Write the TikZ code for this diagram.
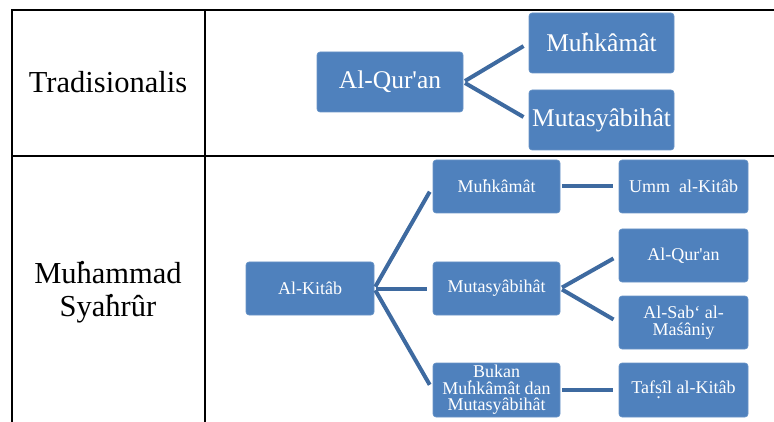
\documentclass[tikz,border=0pt]{standalone}
\usepackage{fontspec}
\setmainfont{Liberation Serif}[Ligatures=TeXOff]
\newcommand\hdt{\ooalign{h\cr\hidewidth\raisebox{.64em}{.}\kern.12em\hidewidth\cr}}
\newcommand\sdb{\ooalign{s\cr\hidewidth\raisebox{-.28em}{.}\hidewidth\cr}}
\definecolor{boxblue}{RGB}{79,129,189}
\definecolor{lineblue}{RGB}{62,106,160}
\tikzset{
  bx/.style={fill=boxblue, draw=boxblue!85!white, line width=0.6pt, rounded corners=3pt, text=white, align=center, inner sep=1pt},
  bigbx/.style={bx, minimum width=145pt, minimum height=60pt, font=\fontsize{25.5}{27}\selectfont},
  smbx/.style={bx, minimum width=127pt, minimum height=53pt, font=\fontsize{18}{16.5}\selectfont},
  conn/.style={draw=lineblue, line width=4pt, shorten <=2pt, shorten >=6pt},
  grid/.style={draw=black, line width=1.3pt},
  lbl/.style={align=center, font=\fontsize{30.5}{33}\selectfont}
}
\begin{document}
\begin{tikzpicture}[x=1pt,y=-1pt]
\useasboundingbox (0,0) rectangle (774,422);
% table
\coordinate (tl) at (12,10);
\coordinate (tr) at (774,10);
\coordinate (ml) at (12,156);
\coordinate (mr) at (774,156);
\coordinate (bl) at (12,422);
\coordinate (dt) at (205,10);
\coordinate (db) at (205,422);
\draw[grid] (tr) -- (tl) -- (bl);
\draw[grid] (ml) -- (mr);
\draw[grid] (dt) -- (db);
% labels
\node[lbl] (trad) at (108,82) {Tradisionalis};
\node[lbl] (syah) at (108,293) {Mu\hdt ammad\\Sya\hdt r\^ur};
% top row
\node[bigbx, minimum width=146pt] (aq) at (390,82) {Al-Qur'an};
\node[bigbx] (t1) at (601.5,43) {Mu\hdt k\^am\^at};
\node[bigbx] (t2) at (601.5,120) {Mutasy\^abih\^at};
\draw[conn] (aq.east) -- (t1.west);
\draw[conn] (aq.east) -- (t2.west);
% bottom row
\node[smbx, minimum width=128pt] (ak) at (310,288.5) {Al-Kit\^ab};
\node[smbx] (b1) at (496.5,186.5) {Mu\hdt k\^am\^at};
\node[smbx] (b2) at (496.5,288.5) {Mutasy\^abih\^at};
\node[smbx, minimum height=54pt] (b3) at (496.5,390) {Bukan\\Mu\hdt k\^am\^at dan\\Mutasy\^abih\^at};
\node[smbx, minimum width=129pt] (c1) at (683.5,186.5) {Umm\ \ al-Kit\^ab};
\node[smbx, minimum width=129pt] (c2) at (683.5,255.5) {Al-Qur'an};
\node[smbx, minimum width=129pt] (c3) at (683.5,322.5) {Al-Sab‘ al-\\Ma\'s\^aniy};
\node[smbx, minimum width=129pt, minimum height=54pt] (c4) at (683.5,390) {Taf\sdb\^il al-Kit\^ab};
\draw[conn] (ak.east) -- (b1.west);
\draw[conn] (ak.east) -- (b2.west);
\draw[conn] (ak.east) -- (b3.west);
\draw[conn] (b1.east) -- (c1.west);
\draw[conn] (b2.east) -- (c2.west);
\draw[conn] (b2.east) -- (c3.west);
\draw[conn] (b3.east) -- (c4.west);
\end{tikzpicture}
\end{document}
